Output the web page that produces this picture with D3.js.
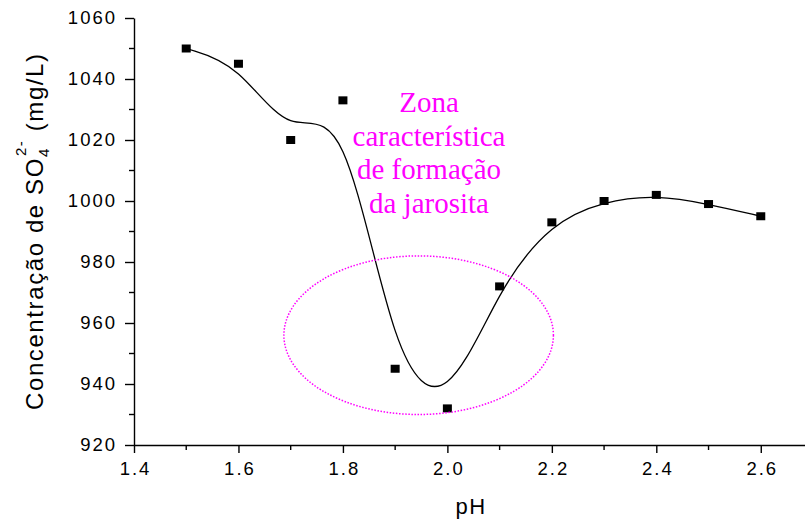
<!DOCTYPE html>
<html lang="pt">
<head>
  <meta charset="UTF-8">
  <title>Concentração de SO4 vs pH</title>
  <script src="https://d3js.org/d3.v7.min.js"></script>
  <style>
    body { margin: 0; background: #fff; }
    svg { display: block; }
    .axis text { font-family: 'Liberation Sans', Arial, sans-serif; font-size: 18.5px; letter-spacing: 2px; fill: #000; }
    .axis path, .axis line { stroke: #000; stroke-width: 1.4; }
    .lbl { font-family: 'Liberation Sans', Arial, sans-serif; fill: #000; }
    .zona { font-family: 'Liberation Serif', 'Times New Roman', serif; font-size: 29px; fill: #ff00ff; }
  </style>
</head>
<body>
  <svg width="805" height="522"></svg>
  <script>
    const phValues = [1.5, 1.6, 1.7, 1.8, 1.9, 2.0, 2.1, 2.2, 2.3, 2.4, 2.5, 2.6];
    const so4Values = [1050, 1045, 1020, 1033, 945, 932, 972, 993, 1000, 1002, 999, 995];
    const xTicks = [1.4, 1.6, 1.8, 2.0, 2.2, 2.4, 2.6];
    const xMinor = [1.5, 1.7, 1.9, 2.1, 2.3, 2.5];
    const yTicks = [920, 940, 960, 980, 1000, 1020, 1040, 1060];
    const yMinor = [930, 950, 970, 990, 1010, 1030, 1050];
    const zonaLines = ["Zona", "característica", "de formação", "da jarosita"];
    // ellipse in data units: centre pH, centre conc, half-width pH, half-height conc
    const zonaEllipse = [1.945, 956, 0.258, 26];

    const svg = d3.select("svg");
    const x = d3.scaleLinear().domain([1.4, 2.7]).range([134, 813]);
    const y = d3.scaleLinear().domain([920, 1060]).range([445, 18]);

    // minor ticks first so axis lines sit on top
    const gx = svg.append("g").attr("class", "axis").attr("transform", "translate(0,445)");
    gx.selectAll(".minor").data(xMinor).join("line")
      .attr("x1", d => x(d)).attr("x2", d => x(d)).attr("y1", 0).attr("y2", 5);
    gx.call(d3.axisBottom(x).tickValues(xTicks).tickFormat(d3.format(".1f")).tickSize(8).tickSizeOuter(0).tickPadding(9));
    gx.selectAll("text").attr("dx", "1px");

    const gy = svg.append("g").attr("class", "axis").attr("transform", "translate(134,0)");
    gy.selectAll(".minor").data(yMinor).join("line")
      .attr("x1", 0).attr("x2", -5).attr("y1", d => y(d)).attr("y2", d => y(d));
    gy.call(d3.axisLeft(y).tickValues(yTicks).tickFormat(d3.format("d")).tickSize(9).tickSizeOuter(0).tickPadding(8));

    // B-spline through the points as control points
    const pts = phValues.map((p, i) => [p, so4Values[i]]);
    svg.append("path")
      .datum(pts)
      .attr("fill", "none")
      .attr("stroke", "#000")
      .attr("stroke-width", 1.3)
      .attr("d", d3.line().x(d => x(d[0])).y(d => y(d[1])).curve(d3.curveBasis));

    svg.append("g").selectAll("rect").data(pts).join("rect")
      .attr("x", d => x(d[0]) - 4.5)
      .attr("y", d => y(d[1]) - 4)
      .attr("width", 9).attr("height", 8)
      .attr("fill", "#000");

    // annotation
    svg.append("ellipse")
      .attr("cx", x(zonaEllipse[0]))
      .attr("cy", y(zonaEllipse[1]))
      .attr("rx", x(zonaEllipse[0] + zonaEllipse[2]) - x(zonaEllipse[0]))
      .attr("ry", y(zonaEllipse[1] - zonaEllipse[3]) - y(zonaEllipse[1]))
      .attr("fill", "none")
      .attr("stroke", "#ff00ff")
      .attr("stroke-width", 1.5)
      .attr("stroke-dasharray", "1.5,1.6");

    svg.append("text").attr("class", "zona")
      .attr("text-anchor", "middle")
      .selectAll("tspan").data(zonaLines).join("tspan")
      .attr("x", 429)
      .attr("y", (d, i) => 112 + i * 33.7)
      .text(d => d);

    // axis titles
    svg.append("text").attr("class", "lbl")
      .attr("x", 471).attr("y", 514)
      .attr("text-anchor", "middle")
      .style("font-size", "22px").style("letter-spacing", "1.5px")
      .text("pH");

    const yl = svg.append("text").attr("class", "lbl")
      .attr("transform", "translate(43,410) rotate(-90)")
      .style("font-size", "24px").style("letter-spacing", "1.6px");
    yl.append("tspan").text("Concentração de SO");
    yl.append("tspan").attr("dy", 6).style("font-size", "15px").text("4");
    yl.append("tspan").attr("dx", -9).attr("dy", -23).style("font-size", "15px").text("2-");
    yl.append("tspan").attr("dy", 17).text(" (mg/L)");
  </script>
</body>
</html>
